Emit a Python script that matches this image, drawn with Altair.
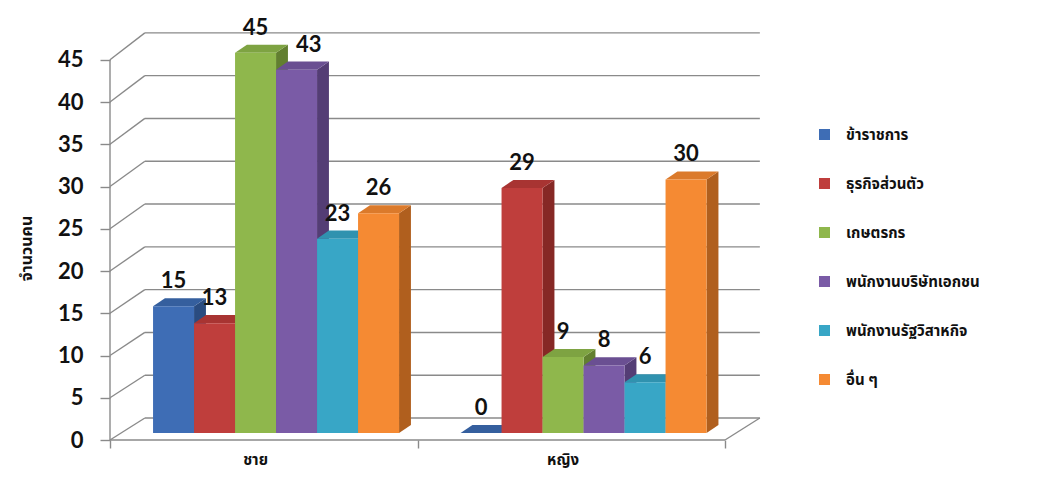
import altair as alt
import pandas as pd

# ---- data -------------------------------------------------------------
sexes = ["ชาย", "หญิง"]
occupations = [
    "ข้าราชการ",
    "ธุรกิจส่วนตัว",
    "เกษตรกร",
    "พนักงานบริษัทเอกชน",
    "พนักงานรัฐวิสาหกิจ",
    "อื่น ๆ",
]
male_counts = [15, 13, 45, 43, 23, 26]
female_counts = [0, 29, 9, 8, 6, 30]
y_ticks = [0, 5, 10, 15, 20, 25, 30, 35, 40, 45]

front_colors = ["#3E6DB5", "#BF3E3C", "#8FB74C", "#7A5BA6", "#38A6C6", "#F58A33"]
side_colors = ["#2A4C80", "#862825", "#627F30", "#543D75", "#24748B", "#B05F1E"]
top_colors = ["#355F9E", "#A83432", "#7EA342", "#6A4F92", "#3092AF", "#DB7A2B"]

# ---- geometry of the pseudo-3D box (in scale units) --------------------
PLOT_W, PLOT_H = 660, 430
PX_X, PX_Y = 41.0, 8.45          # pixels per x unit (one bar) / per count
BAND = 7.5                       # category band width in bar widths
GAP_HALF = 0.75                  # half of the 150% gap
BAR_SHIFT = 0.3                  # bars sit a little behind the front plane
BAR_BASE = 0.83
DEPTH_X, DEPTH_Y = 0.29, 0.95    # bar depth projection
WALL_X, WALL_Y0, WALL_SLOPE = 0.85, 2.6, 1.013
FLOOR_END = 2 * BAND

FONT = "Lato, 'Noto Sans Thai', Tahoma, 'DejaVu Sans', sans-serif"
GRID = "#8A8A8A"

rows = []
for si, (sex, counts) in enumerate(zip(sexes, [male_counts, female_counts])):
    for oi, (occ, val) in enumerate(zip(occupations, counts)):
        rows.append({"sex": sex, "si": si, "occ": occ, "oi": oi, "value": val})
bars = pd.DataFrame(rows)
ticks = pd.DataFrame({"v": y_ticks})
cats = pd.DataFrame({"sex": sexes, "si": list(range(len(sexes)))})

xs = alt.Scale(domain=[0, PLOT_W / PX_X], nice=False, zero=False)
ys = alt.Scale(domain=[0, PLOT_H / PX_Y], nice=False, zero=False)

# one x axis (floor tick marks) and one y axis (count labels) shared by all layers
x_axis = alt.Axis(values=[0, BAND, FLOOR_END], labels=False, domain=False,
                  grid=False, tickSize=8, tickColor=GRID, tickWidth=1.4, title=None)
y_axis = alt.Axis(values=y_ticks, domain=False, grid=False, tickSize=10,
                  tickColor=GRID, tickWidth=1.4, labelFont="Lato",
                  labelFontSize=22, labelFontWeight="bold", labelColor="#111111",
                  labelPadding=17, title="จำนวนคน", titleFont=FONT,
                  titleFontSize=16, titleFontWeight="bold", titleColor="#111111",
                  titleX=-84, titleY=238, titleAlign="center", titleBaseline="middle")


def X(field, **kw):
    return alt.X(field, scale=xs, axis=x_axis, **kw)


def Y(field, **kw):
    return alt.Y(field, scale=ys, axis=y_axis, **kw)


# ---- walls and floor ---------------------------------------------------
walls = alt.Chart(ticks).transform_calculate(
    gx0=f"{WALL_X}",
    gx1=f"{FLOOR_END + WALL_X}",
    gy=f"{WALL_Y0} + datum.v * {WALL_SLOPE}",
    fx="0",
)

gridlines = walls.mark_rule(color=GRID, strokeWidth=1.4).encode(
    x=X("gx0:Q"), x2="gx1:Q", y=Y("gy:Q"),
)

diagonals = walls.mark_rule(color=GRID, strokeWidth=1.4).encode(
    x=X("fx:Q"), x2="gx0:Q", y=Y("v:Q"), y2="gy:Q",
)

front_axis = alt.Chart(ticks).transform_aggregate(
    lo="min(v)", hi="max(v)"
).mark_rule(color=GRID, strokeWidth=1.4).encode(
    x=alt.value(0), y=Y("lo:Q"), y2="hi:Q",
)

floor = alt.Chart(ticks).transform_filter("datum.v == 0").transform_calculate(
    fx0="0", fx1=f"{FLOOR_END}", bx=f"{FLOOR_END + WALL_X}", by=f"{WALL_Y0}"
)
floor_front = floor.mark_rule(color=GRID, strokeWidth=1.4).encode(
    x=X("fx0:Q"), x2="fx1:Q", y=Y("v:Q"),
)
floor_right = floor.mark_rule(color=GRID, strokeWidth=1.4).encode(
    x=X("fx1:Q"), x2="bx:Q", y=Y("v:Q"), y2="by:Q",
)

# ---- bars --------------------------------------------------------------
base = alt.Chart(bars).transform_calculate(
    x0=f"datum.si * {BAND} + {GAP_HALF} + {BAR_SHIFT} + datum.oi",
).transform_calculate(
    x1="datum.x0 + 1",
    y0=f"{BAR_BASE}",
    y1=f"{BAR_BASE} + datum.value",
    bar="datum.sex + '|' + datum.occ",
)

pairs = base.transform_calculate(k="[0, 1]").transform_flatten(["k"])

side = pairs.transform_calculate(
    sx=f"datum.x1 + datum.k * {DEPTH_X}",
    sy0=f"datum.y0 + datum.k * {DEPTH_Y}",
    sy1=f"datum.y1 + datum.k * {DEPTH_Y}",
).mark_area(orient="vertical").encode(
    x=X("sx:Q"),
    y=Y("sy0:Q", stack=None),
    y2="sy1:Q",
    detail="bar:N",
    color=alt.Color("occ:N", scale=alt.Scale(domain=occupations, range=side_colors), legend=None),
)

top = pairs.transform_calculate(
    ty=f"datum.y1 + datum.k * {DEPTH_Y}",
    tx0=f"datum.x0 + datum.k * {DEPTH_X}",
    tx1=f"datum.x1 + datum.k * {DEPTH_X}",
).mark_area(orient="horizontal").encode(
    y=Y("ty:Q"),
    x=X("tx0:Q", stack=None),
    x2="tx1:Q",
    detail="bar:N",
    color=alt.Color("occ:N", scale=alt.Scale(domain=occupations, range=top_colors), legend=None),
)

front = base.mark_rect().encode(
    x=X("x0:Q"),
    x2="x1:Q",
    y=Y("y0:Q"),
    y2="y1:Q",
    color=alt.Color(
        "occ:N",
        scale=alt.Scale(domain=occupations, range=front_colors),
        legend=alt.Legend(
            orient="none", legendX=707, legendY=117, title=None,
            symbolType="square", symbolSize=121, symbolStrokeWidth=0,
            labelFont=FONT, labelFontSize=15, labelFontWeight="bold",
            labelColor="#111111", labelOffset=14, rowPadding=33,
            labelLimit=300,
        ),
    ),
)

labels = base.transform_calculate(
    lx=f"(datum.x0 + datum.x1) / 2 + (datum.si == 0 && datum.oi == 3 ? {BAR_SHIFT} : 0)"
).mark_text(
    dy=-25, font="Lato", fontSize=22, fontWeight="bold", color="#111111", baseline="middle"
).encode(
    x=X("lx:Q"), y=Y("y1:Q"), text="value:Q",
)

cat_labels = alt.Chart(cats).transform_calculate(
    cx=f"datum.si * {BAND} + {BAND} / 2 - 0.2", cy="0"
).mark_text(
    dy=20, font=FONT, fontSize=15, fontWeight="bold", color="#111111", baseline="middle"
).encode(
    x=X("cx:Q"), y=Y("cy:Q"), text="sex:N",
)

chart = alt.layer(
    gridlines, diagonals, front_axis, floor_front, floor_right,
    side, top, front, labels, cat_labels,
).resolve_scale(
    color="independent"
).properties(
    width=PLOT_W,
    height=PLOT_H,
    autosize=alt.AutoSizeParams(type="none"),
    padding={"left": 110, "top": 10, "right": 1040 - 110 - PLOT_W, "bottom": 486 - 10 - PLOT_H},
    background="white",
).configure_view(stroke=None)

chart.save("out.html", embed_options={"renderer": "svg", "actions": False})
